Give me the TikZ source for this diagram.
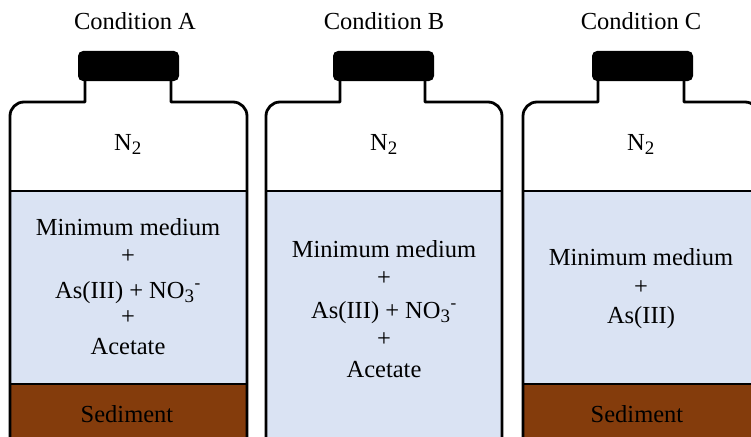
\documentclass[tikz,border=0pt]{standalone}
\usepackage{fontspec}
\setmainfont{Liberation Serif}
\definecolor{liq}{HTML}{DAE3F3}
\definecolor{sedc}{HTML}{843C0C}
\tikzset{
  outline/.style={draw=black, line width=2.8pt, line join=round},
  lbl/.style={anchor=base, inner sep=0pt, font=\fontsize{24.5}{28}\selectfont},
}
% #1 L, #2 R, #3 neck left, #4 neck right, #5 cap left, #6 cap right, #7 sediment (1/0)
\newcommand\mybottle[7]{%
  \fill[liq] (#1,191) rectangle (#2,450);
  \ifnum#7=1 \fill[sedc] (#1,384) rectangle (#2,450); \fi
  \draw[outline] (#1,450) -- (#1,116) arc[start angle=180, end angle=90, radius=14pt]
     -- (#3,102) -- (#3,72) (#4,72) -- (#4,102) -- ({#2-14},102)
     arc[start angle=90, end angle=0, radius=14pt] -- (#2,450);
  \draw[outline] (#1,191) -- (#2,191);
  \ifnum#7=1 \draw[outline] (#1,384) -- (#2,384); \fi
  \fill[black, rounded corners=5pt] (#5,51) rectangle (#6,81);
}
\begin{document}
\begin{tikzpicture}[x=1pt, y=-1pt]
\useasboundingbox (0,0) rectangle (751,436);
\clip (0,0) rectangle (751,436);
\mybottle{10}{247}{85}{171}{78}{179}{1}
\mybottle{266}{502}{340}{425}{333}{434}{0}
\mybottle{523}{759}{598}{684}{592}{693}{1}
% titles
\node[lbl] (tA) at (135,30) {Condition A};
\node[lbl] (tB) at (384,30) {Condition B};
\node[lbl] (tC) at (641,30) {Condition C};
% gas
\node[lbl] (gA) at (128,150) {N\textsubscript{\fontsize{19}{20}\selectfont 2}};
\node[lbl] (gB) at (384,150) {N\textsubscript{\fontsize{19}{20}\selectfont 2}};
\node[lbl] (gC) at (641,150) {N\textsubscript{\fontsize{19}{20}\selectfont 2}};
% A
\node[lbl] (a1) at (128,235) {Minimum medium};
\node[lbl] (a2) at (128,263) {+};
\node[lbl] (a3) at (128,298) {As(III) + NO\textsubscript{\fontsize{19}{20}\selectfont 3}\textsuperscript{-}};
\node[lbl] (a4) at (128,324) {+};
\node[lbl] (a5) at (128,354) {Acetate};
% B
\node[lbl] (b1) at (384,257) {Minimum medium};
\node[lbl] (b2) at (384,285) {+};
\node[lbl] (b3) at (384,318) {As(III) + NO\textsubscript{\fontsize{19}{20}\selectfont 3}\textsuperscript{-}};
\node[lbl] (b4) at (384,346) {+};
\node[lbl] (b5) at (384,377) {Acetate};
% C
\node[lbl] (c1) at (641,265) {Minimum medium};
\node[lbl] (c2) at (641,294) {+};
\node[lbl] (c3) at (641,323) {As(III)};
% sediment
\node[lbl] (sA) at (127,422) {Sediment};
\node[lbl] (sC) at (637,422) {Sediment};
\end{tikzpicture}
\end{document}
